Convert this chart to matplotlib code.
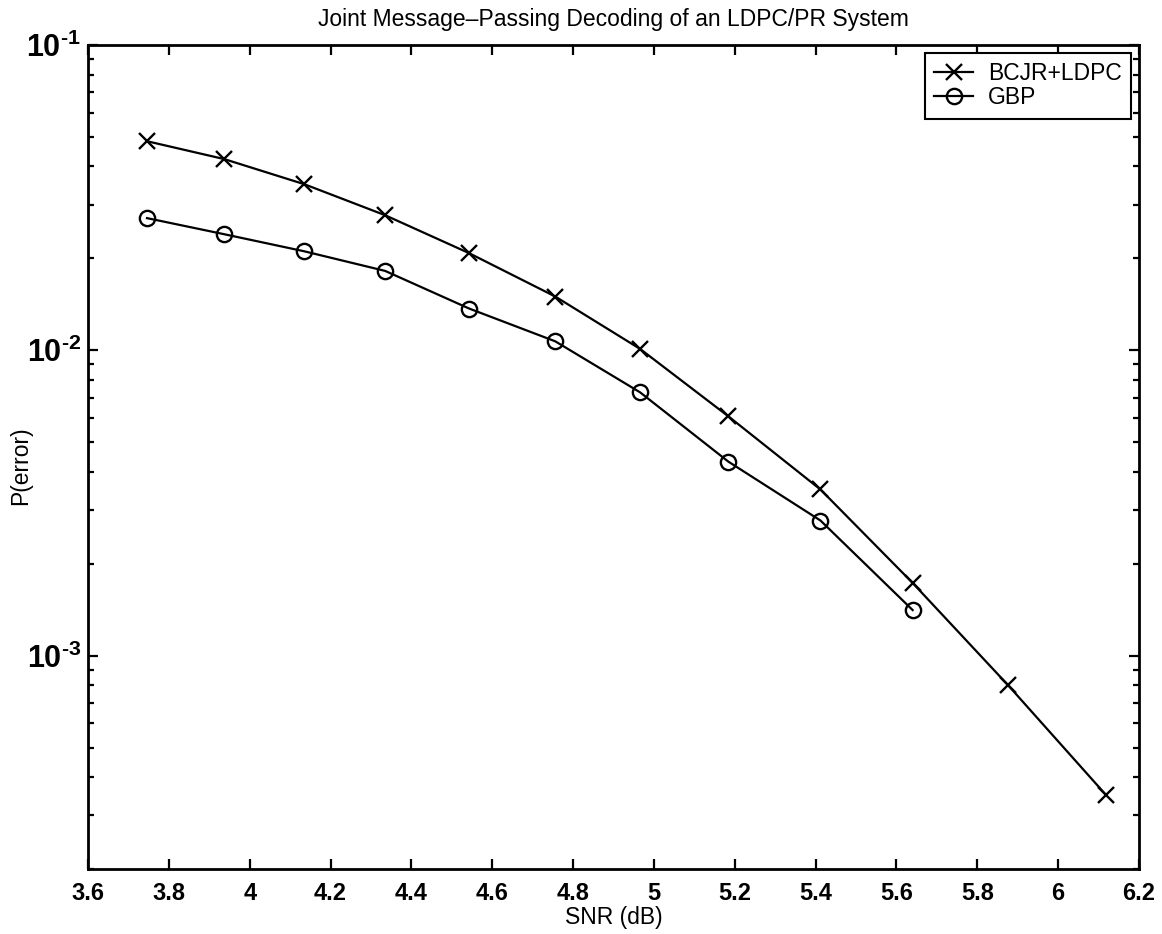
import matplotlib
matplotlib.use("Agg")
import matplotlib.pyplot as plt

plt.rcParams['font.family'] = ['Liberation Sans', 'DejaVu Sans']
plt.rcParams['mathtext.fontset'] = 'custom'
plt.rcParams['mathtext.rm'] = 'Liberation Sans:bold'
plt.rcParams['mathtext.default'] = 'rm'

# Data
snr_bcjr = [3.746, 3.937, 4.135, 4.335, 4.543, 4.756, 4.966, 5.184, 5.412, 5.640, 5.875, 6.118]
p_bcjr = [0.0484, 0.0423, 0.0350, 0.0277, 0.0208, 0.0150, 0.0101, 0.00608, 0.00350, 0.00173, 0.000803, 0.000350]

snr_gbp = [3.746, 3.937, 4.135, 4.335, 4.543, 4.756, 4.966, 5.184, 5.412, 5.640]
p_gbp = [0.0271, 0.0240, 0.0211, 0.0182, 0.0137, 0.0107, 0.00728, 0.00432, 0.00277, 0.00141]

xticks = [3.6, 3.8, 4.0, 4.2, 4.4, 4.6, 4.8, 5.0, 5.2, 5.4, 5.6, 5.8, 6.0, 6.2]
xticklabels = ['3.6', '3.8', '4', '4.2', '4.4', '4.6', '4.8', '5', '5.2', '5.4', '5.6', '5.8', '6', '6.2']
yticks = [1e-3, 1e-2, 1e-1]
yticklabels = [r'$10^{\text{-3}}$', r'$10^{\text{-2}}$', r'$10^{\text{-1}}$']

fig = plt.figure(figsize=(11.62, 9.34), dpi=100)
ax = fig.add_axes([88/1162, 65/934, (1139-88)/1162, (869-45)/934])

ax.semilogy(snr_bcjr, p_bcjr, color='black', lw=1.6, marker='x', ms=11, mew=1.7,
            label='BCJR+LDPC')
ax.semilogy(snr_gbp, p_gbp, color='black', lw=1.6, marker='o', ms=11, mew=1.7,
            mfc='none', label='GBP')

ax.set_xlim(3.6, 6.2)
ax.set_ylim(2e-4, 1e-1)
ax.set_xticks(xticks)
ax.set_xticklabels(xticklabels)
ax.set_yticks(yticks)
ax.set_yticklabels(yticklabels)
ax.yaxis.set_minor_locator(matplotlib.ticker.LogLocator(base=10, subs=range(2, 10)))
ax.yaxis.set_minor_formatter(matplotlib.ticker.NullFormatter())
ax.xaxis.set_minor_locator(matplotlib.ticker.NullLocator())

ax.tick_params(which='both', direction='in', top=True, right=True, width=1.6, colors='black')
ax.tick_params(which='major', length=7)
ax.tick_params(which='minor', length=4.5)
ax.tick_params(axis='x', which='major', labelsize=17, pad=9)
ax.tick_params(axis='y', which='major', labelsize=22, pad=5)
for lab in ax.get_xticklabels():
    lab.set_fontweight('bold')
for lab in ax.get_yticklabels():
    lab.set_fontweight('bold')
for sp in ax.spines.values():
    sp.set_linewidth(2)

ax.set_xlabel('SNR (dB)', fontsize=16.5, labelpad=1)
ax.set_ylabel('P(error)', fontsize=16.5, va='center', ha='center')
ax.yaxis.set_label_coords(-0.064, 0.49)
ax.set_title('Joint Message\u2013Passing Decoding of an LDPC/PR System', fontsize=16.5, pad=14)

leg = ax.legend(loc='upper right', fontsize=16.5, fancybox=False, framealpha=1,
                edgecolor='black', borderpad=0.4, handlelength=1.7, handletextpad=0.65,
                labelspacing=0.05, borderaxespad=0.35)
leg.get_frame().set_linewidth(1.5)

fig.savefig('out.png', dpi=100, facecolor='white')
